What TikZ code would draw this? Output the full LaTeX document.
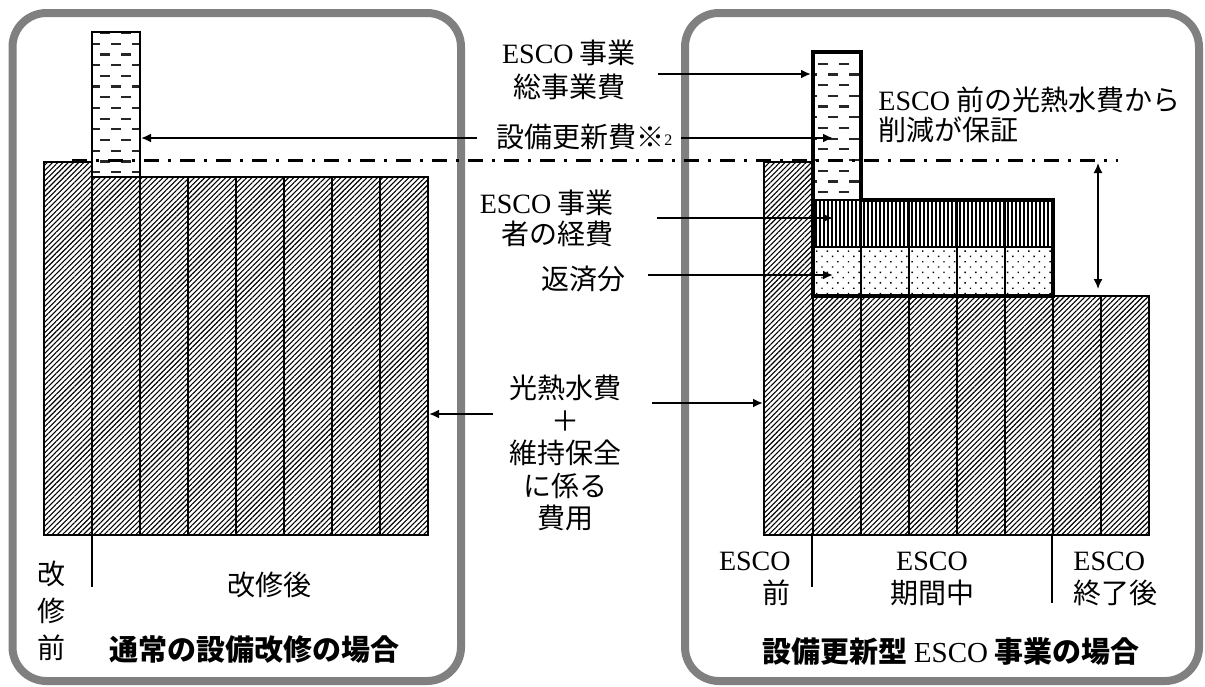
\documentclass[tikz,border=0pt]{standalone}
\usepackage{fontspec}
\setmainfont{Liberation Serif}
\newfontfamily\jp{Noto Sans CJK JP}
\usetikzlibrary{arrows.meta,patterns.meta}
\definecolor{panelgray}{RGB}{128,128,128}
\newcommand\esco{{\rmfamily\mdseries ESCO}}
\tikzset{
 panel/.style={draw=panelgray, line width=4pt, rounded corners=17pt},
 hatch/.style={pattern={Lines[angle=45,distance=1.85pt,line width=0.55pt]}, draw=black, line width=0.6pt},
 stripes/.style={pattern={Lines[angle=90,distance=2pt,line width=0.6pt]}, draw=black, line width=0.6pt},
 dotsfill/.style={pattern={Dots[angle=45,distance=3.75pt,radius=0.5pt]}, draw=black, line width=0.6pt},
 thinbox/.style={draw=black, line width=0.6pt},
 dashrow/.style={draw=black!85, line width=1.1pt, dash pattern=on 5pt off 5.5pt},
 heavy/.style={draw=black, line width=2.2pt, line join=miter},
 arr/.style={-{Latex[length=5pt,width=4.5pt]}, line width=1pt},
 dbl/.style={{Latex[length=5pt,width=4.5pt]}-{Latex[length=5pt,width=4.5pt]}, line width=0.8pt},
 dashdotline/.style={line width=1.5pt, dash pattern=on 7.5pt off 4.5pt on 1.5pt off 4.5pt},
 tickline/.style={line width=0.6pt},
 lbl/.style={inner sep=0pt, font=\jp\fontsize{14}{#1}\selectfont},
 lbl/.default=17,
 ttl/.style={inner sep=0pt, font=\jp\bfseries\fontsize{14.5}{17}\selectfont},
}
\begin{document}
\begin{tikzpicture}[x=0.5pt,y=-0.5pt]
\useasboundingbox (0,0) rectangle (1205,686);
% panels
\draw[panel] (12.5,13) rectangle (461,681);
\draw[panel] (685,13) rectangle (1199,681);

% ---------- left chart ----------
\draw[hatch] (44,162) rectangle (92,535);
\foreach \x in {92,140,...,380} \draw[hatch] (\x,177) rectangle (\x+48,535);
\begin{scope}
\clip (92,32) rectangle (140,177);
\foreach \i in {0,...,13} {
 \pgfmathsetmacro\yy{33+\i*10.7}
 \pgfmathsetmacro\xs{92-13+mod(\i,2)*11}
 \draw[dashrow] (\xs,\yy) -- (150,\yy);
}
\end{scope}
\draw[thinbox] (92,32) rectangle (140,177);

% ---------- right chart ----------
\draw[hatch] (764,162) rectangle (813,535);
\foreach \x in {813,861,...,1101} \draw[hatch] (\x,296) rectangle (\x+48,535);
\foreach \x in {813,861,...,1005} {
 \draw[stripes] (\x,200) rectangle (\x+48,247);
 \draw[dotsfill] (\x,247) rectangle (\x+48,296);
}
\begin{scope}
\clip (813,52) rectangle (861,200);
\foreach \i in {0,...,13} {
 \pgfmathsetmacro\yy{53+\i*10.7}
 \pgfmathsetmacro\xs{813-6+mod(\i,2)*11}
 \draw[dashrow] (\xs,\yy) -- (871,\yy);
}
\end{scope}

% dash-dot reference line
\draw[dashdotline] (72,160) -- (1118,160);

% heavy outline
\draw[heavy] (813,52) -- (861,52) -- (861,200) -- (1053,200) -- (1053,296) -- (813,296) -- cycle;

% ---------- labels ----------
\node[lbl=17.25, align=center] (tot) at (569,70) {\esco{} 事業\\総事業費};
\coordinate (totS) at (658,74);
\coordinate (totE) at (811,74);
\draw[arr] (totS) -- (totE);

\node[lbl, anchor=west] (setsubi) at (496,137) {設備更新費※\raisebox{1pt}{\rmfamily\fontsize{8}{8}\selectfont 2}};
\coordinate (setL) at (477,138);
\coordinate (setLE) at (141,138);
\coordinate (setR) at (681,138);
\coordinate (setRE) at (833,138);
\draw[arr] (setL) -- (setLE);
\draw[arr] (setR) -- (setRE);

\node[lbl=15, align=left, anchor=west] (hosho) at (878,115) {\esco{} 前の光熱水費から\\削減が保証};

\node[lbl=15.5, align=right, anchor=east] (keihi) at (614,218.5) {\esco{} 事業\\者の経費};
\coordinate (keiS) at (657,218);
\coordinate (keiE) at (833,218);
\draw[arr] (keiS) -- (keiE);

\node[lbl] (hensai) at (583,279) {返済分};
\coordinate (henS) at (648,275);
\coordinate (henE) at (833,275);
\draw[arr] (henS) -- (henE);

\node[lbl=16.25, align=center] (kounetsu) at (565,453) {光熱水費\\＋\\維持保全\\に係る\\費用};
\coordinate (kL) at (493,414);
\coordinate (kLE) at (429,414);
\coordinate (kR) at (652,403);
\coordinate (kRE) at (763,403);
\draw[arr] (kL) -- (kLE);
\draw[arr] (kR) -- (kRE);

\coordinate (dT) at (1098,163);
\coordinate (dB) at (1098,289);
\draw[dbl] (dT) -- (dB);

% ---------- bottom ----------
\draw[tickline] (92,535) -- (92,587);
\draw[tickline] (812,535) -- (812,587);
\draw[tickline] (1052,535) -- (1052,603);

\node[lbl=18.5, align=center] (kaizen) at (52,610.5) {改\\修\\前};
\node[lbl] (kaigo) at (269,585) {改修後};
\node[ttl] (t1) at (254,650) {通常の設備改修の場合};

\node[lbl=16.5, align=right, anchor=east] (bef) at (791,579) {\esco\\前};
\node[lbl=16.5, align=center] (dur) at (932,579) {\esco\\期間中};
\node[lbl=16.5, align=left, anchor=west] (aft) at (1073,579) {\esco\\終了後};
\node[ttl] (t2) at (951,652) {設備更新型 \esco{} 事業の場合};
\end{tikzpicture}
\end{document}
